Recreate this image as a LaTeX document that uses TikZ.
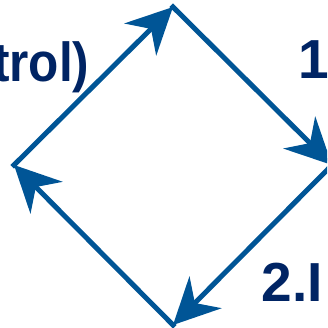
\documentclass[tikz,border=0pt]{standalone}
\usepackage{fontspec}
\setmainfont{Liberation Sans}
\usepackage{tikz}
\usetikzlibrary{arrows.meta}
\usepackage{xcolor}
\definecolor{lineblue}{RGB}{0,85,150}
\definecolor{textblue}{RGB}{0,36,100}

\begin{document}
\begin{tikzpicture}[
x=1pt,y=-1pt,
arr/.style={-{Stealth[length=46pt,width=45pt,inset=15pt]},line width=5pt,draw=lineblue,line cap=rect},
lbl/.style={text=textblue,font=\fontsize{55}{60}\selectfont\bfseries,inner sep=0pt,anchor=base west}
]
\path[use as bounding box,clip] (0,0) rectangle (327,328);
\coordinate (top) at (173,7);
\coordinate (right) at (332,165);
\coordinate (bottom) at (173,325);
\coordinate (left) at (14,165);

\node[lbl,xscale=0.9] (ctl) at (-7,82) {trol)};
\node[lbl] (one) at (298,79) {1};
\node[lbl] (two) at (261.5,301) {2.I};

\draw[arr] (left) -- (top);
\draw[arr] (top) -- (right);
\draw[arr] (right) -- (bottom);
\draw[arr] (bottom) -- (left);
\end{tikzpicture}
\end{document}
